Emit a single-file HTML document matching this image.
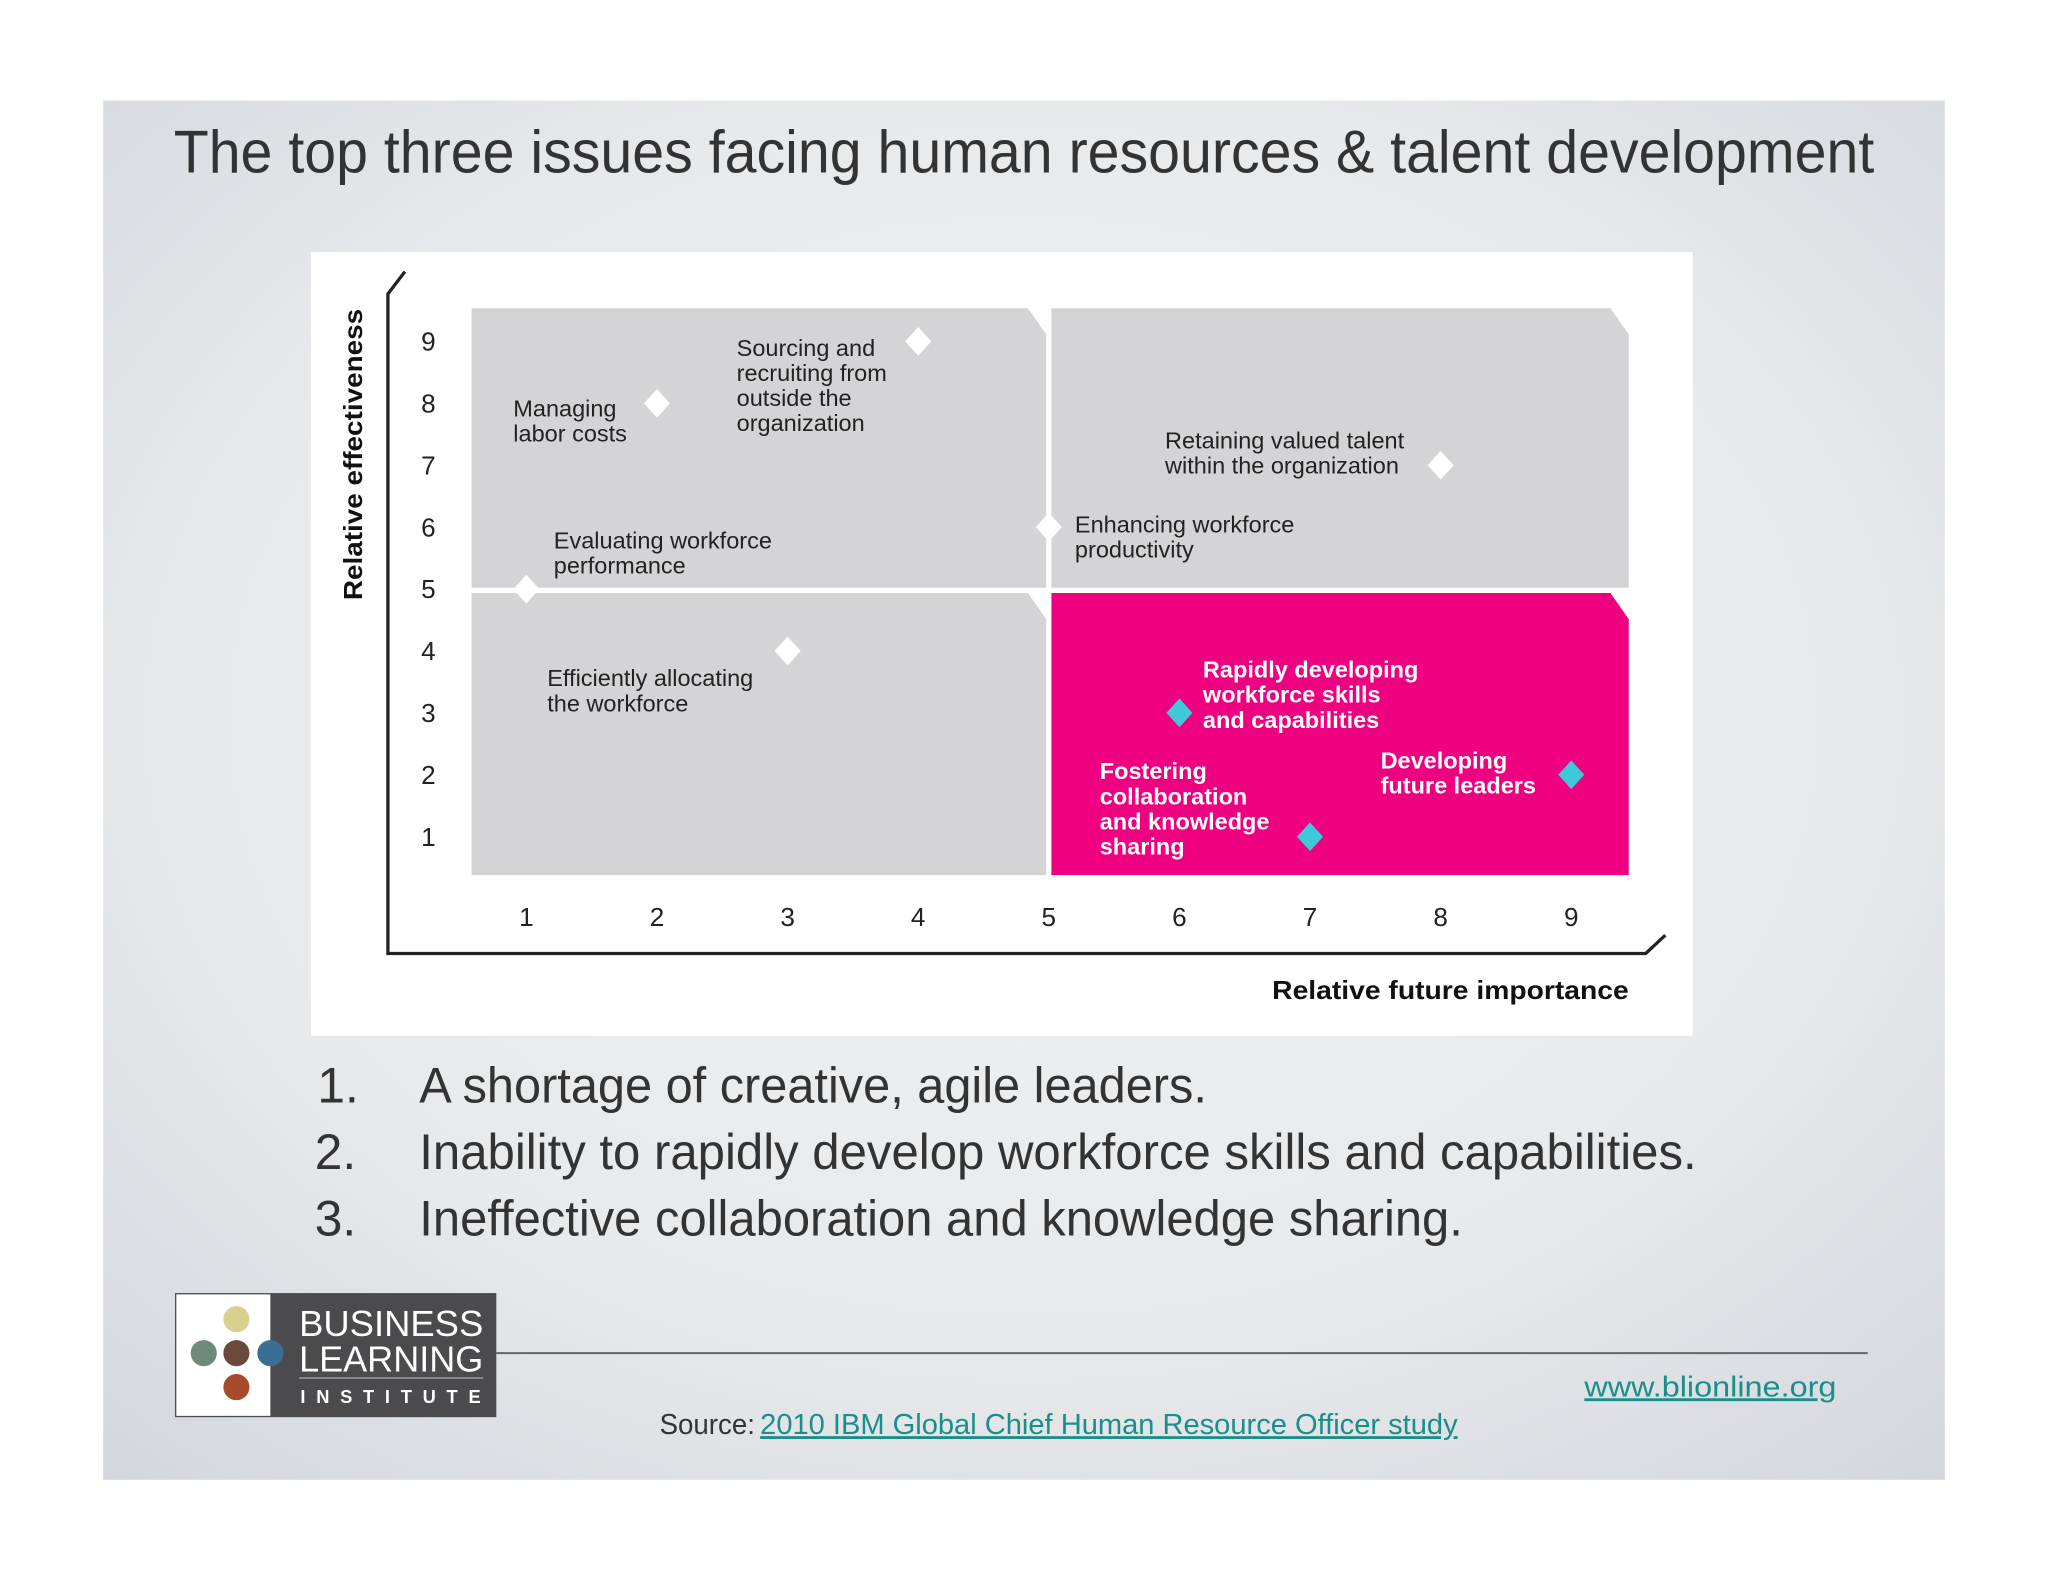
<!DOCTYPE html>
<html><head><meta charset="utf-8"><style>
html,body{margin:0;padding:0;background:#fff;width:2048px;height:1582px;overflow:hidden}
svg{display:block}
</style></head><body>
<svg id="s" width="2048" height="1582" viewBox="0 0 1568 1211.2" preserveAspectRatio="none" xmlns="http://www.w3.org/2000/svg" font-family="'Liberation Sans', sans-serif">
<defs>
<radialGradient id="bg" cx="0.5" cy="0.45" r="0.75">
<stop offset="0" stop-color="#f1f2f3"/><stop offset="0.6" stop-color="#e7e9eb"/><stop offset="1" stop-color="#d3d6dc"/>
</radialGradient>
</defs>
<rect x="79" y="77" width="1410" height="1056" fill="url(#bg)"/>
<text x="784" y="132" text-anchor="middle" font-size="46" fill="#333" font-weight="300" textLength="1302" lengthAdjust="spacingAndGlyphs">The top three issues facing human resources &amp; talent development</text>
<rect x="238" y="193" width="1058" height="600" fill="#fff"/>
<g id="chart"></g>
<g font-size="38" fill="#333" font-weight="300">
<text x="243" y="844">1.</text>
<text x="321" y="844" textLength="603" lengthAdjust="spacingAndGlyphs">A shortage of creative, agile leaders.</text>
<text x="241" y="895">2.</text>
<text x="321" y="895" textLength="978" lengthAdjust="spacingAndGlyphs">Inability to rapidly develop workforce skills and capabilities.</text>
<text x="241" y="946">3.</text>
<text x="321" y="946" textLength="799" lengthAdjust="spacingAndGlyphs">Ineffective collaboration and knowledge sharing.</text>
</g>
<g>
<rect x="134" y="990" width="246" height="95" fill="#4b4b4d"/>
<rect x="135" y="991" width="72" height="93" fill="#fff"/>
<circle cx="181" cy="1010" r="10" fill="#d9d08f"/>
<circle cx="156" cy="1036" r="10" fill="#6f8a78"/>
<circle cx="181" cy="1036" r="10" fill="#6a4a3c"/>
<circle cx="207" cy="1036" r="10" fill="#3a6f94"/>
<circle cx="181" cy="1062" r="10" fill="#a84a2c"/>
<text x="229" y="1023" font-size="28" fill="#fff" font-weight="300" textLength="141" lengthAdjust="spacingAndGlyphs">BUSINESS</text>
<text x="229" y="1050" font-size="28" fill="#fff" font-weight="300" textLength="141" lengthAdjust="spacingAndGlyphs">LEARNING</text>
<line x1="229" y1="1055" x2="370" y2="1055" stroke="#aaa" stroke-width="1"/>
<text x="230" y="1074" font-size="14" fill="#fff" font-weight="bold" textLength="138" lengthAdjust="spacing">INSTITUTE</text>
</g>
<line x1="380" y1="1036" x2="1430" y2="1036" stroke="#666" stroke-width="1.5"/>
<text x="1213" y="1069" font-size="22" fill="#1a8f8a" text-decoration="underline" textLength="193" lengthAdjust="spacingAndGlyphs">www.blionline.org</text>
<text x="505" y="1098" font-size="22" fill="#333" font-weight="300"><tspan textLength="73" lengthAdjust="spacingAndGlyphs">Source:</tspan><tspan x="582" fill="#1a8f8a" text-decoration="underline" textLength="534" lengthAdjust="spacingAndGlyphs">2010 IBM Global Chief Human Resource Officer study</tspan></text>
</svg>
<script>
const xTicks=[1,2,3,4,5,6,7,8,9];
const yTicks=[1,2,3,4,5,6,7,8,9];
const pointNames=["Managing labor costs","Sourcing and recruiting from outside the organization","Retaining valued talent within the organization","Enhancing workforce productivity","Evaluating workforce performance","Efficiently allocating the workforce","Rapidly developing workforce skills and capabilities","Fostering collaboration and knowledge sharing","Developing future leaders"];
const pointX=[2,4,8,5,1,3,6,7,9];
const pointY=[8,9,7,6,5,4,3,1,2];
const pointHighlight=[0,0,0,0,0,0,1,1,1];
const labelLines=[["Managing","labor costs"],["Sourcing and","recruiting from","outside the","organization"],["Retaining valued talent","within the organization"],["Enhancing workforce","productivity"],["Evaluating workforce","performance"],["Efficiently allocating","the workforce"],["Rapidly developing","workforce skills","and capabilities"],["Fostering","collaboration","and knowledge","sharing"],["Developing","future leaders"]];
const labelDx=[-110,-139,-211,20,21,-184,18,-161,-146];
const labelDy=[10,11,-13,4,-31,27,-27,-44,-5];

const NS="http://www.w3.org/2000/svg";
const xs=v=>303+100*v;
const ys=v=>688-47.4*v;
const g=document.getElementById('chart');
function mk(t,a){const e=document.createElementNS(NS,t);for(const k in a)e.setAttribute(k,a[k]);g.appendChild(e);return e;}

function quad(x0,x1,y0,y1,fill,name){
  const c=20;
  const p=mk('polygon',{points:`${x0},${y0} ${x1-c+6},${y0} ${x1},${y0+c} ${x1},${y1} ${x0},${y1}`,fill:fill});
  
  
}
quad(361,801,236,450,'#d4d4d6','quadrant-top-left');
quad(805,1247,236,450,'#d4d4d6','quadrant-top-right');
quad(361,801,454,670,'#d4d4d6','quadrant-bottom-left');
quad(805,1247,454,670,'#ee0080','quadrant-bottom-right');

const ax=mk('polyline',{points:'310,208 297,225 297,730 1260,730 1275,716',fill:'none',stroke:'#222','stroke-width':2.5});



xTicks.forEach(v=>{
  const t=mk('text',{x:xs(v),y:709,'text-anchor':'middle','font-size':20,fill:'#222'});t.textContent=v;
  
  
});
yTicks.forEach(v=>{
  const t=mk('text',{x:328,y:ys(v)+7,'text-anchor':'middle','font-size':20,fill:'#222'});t.textContent=v;
  
  
});
const yt=mk('text',{x:0,y:0,'text-anchor':'middle','font-size':20,'font-weight':'bold',fill:'#111',transform:'translate(277,348) rotate(-90)',textLength:223,lengthAdjust:'spacingAndGlyphs'});
yt.textContent='Relative effectiveness';


const xt=mk('text',{x:1247,y:765,'text-anchor':'end','font-size':20,'font-weight':'bold',fill:'#111',textLength:273,lengthAdjust:'spacingAndGlyphs'});
xt.textContent='Relative future importance';



pointX.forEach((vx,i)=>{
  const cx=xs(vx),cy=ys(pointY[i]),h=pointHighlight[i];
  const d=mk('polygon',{points:`${cx},${cy-11} ${cx+10},${cy} ${cx},${cy+11} ${cx-10},${cy}`,fill:h?'#3ec8d8':'#fff'});
  
  
  const t=mk('text',{'font-size':18,fill:h?'#fff':'#222','font-weight':h?'bold':'normal'});
  
  
  labelLines[i].forEach((ln,j)=>{
    const s=document.createElementNS(NS,'tspan');
    s.setAttribute('x',cx+labelDx[i]);
    s.setAttribute('y',cy+labelDy[i]+j*19.2);
    s.textContent=ln;t.appendChild(s);
  });
});
</script>
</body></html>
